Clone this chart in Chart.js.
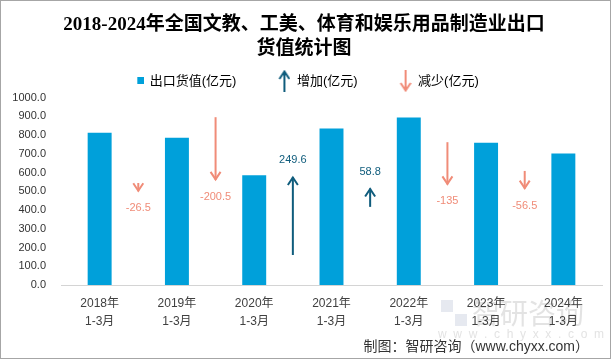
<!DOCTYPE html>
<html lang="zh">
<head>
  <meta charset="UTF-8" />
  <title>出口货值统计图</title>
  <script src="https://cdn.jsdelivr.net/npm/chart.js"></script>
  <style>
    body {
      margin: 0;
      padding: 0;
      background: #fff;
    }
    .box {
      width: 611px;
      height: 359px;
      position: relative;
    }
  </style>
</head>
<body>
  <div class="box">
    <canvas id="grafik" width="611" height="359"></canvas>
  </div>

  <script>
    // data
    const categories = [
      ['2018年', '1-3月'], ['2019年', '1-3月'], ['2020年', '1-3月'], ['2021年', '1-3月'],
      ['2022年', '1-3月'], ['2023年', '1-3月'], ['2024年', '1-3月']
    ];
    const exportValues = [812.0, 785.5, 585.0, 834.6, 893.4, 758.4, 701.9];
    const changeValues = [-26.5, -200.5, 249.6, 58.8, -135, -56.5];
    // tail of each change arrow, on the hidden helper axis (-300..300)
    const arrowStart = [26.5, 237, -204, -50, 157, 65];
    const yTicks = [0, 100, 200, 300, 400, 500, 600, 700, 800, 900, 1000];

    const BAR = '#00A0DA';
    const UP = '#0F5C7C';
    const DOWN = '#F08C78';
    const sans = '"Liberation Sans", "Noto Sans CJK SC", sans-serif';

    function drawArrow(ctx, x, y0, y1, color) {
      const dir = y1 < y0 ? 1 : -1; // 1 = pointing up
      ctx.save();
      ctx.strokeStyle = color;
      ctx.lineWidth = 2;
      ctx.lineCap = 'butt';
      ctx.beginPath();
      ctx.moveTo(x, y0);
      ctx.lineTo(x, y1);
      ctx.stroke();
      ctx.lineJoin = 'miter';
      ctx.beginPath();
      ctx.moveTo(x - 5, y1 + dir * 8);
      ctx.lineTo(x, y1 + dir * 0.5);
      ctx.lineTo(x + 5, y1 + dir * 8);
      ctx.stroke();
      ctx.restore();
    }

    // legend icons: drawn near the right edge of a 40px box so the text sits close
    function arrowIcon(color, up) {
      const c = document.createElement('canvas');
      c.width = 40;
      c.height = 22;
      const ctx = c.getContext('2d');
      if (up) drawArrow(ctx, 34, 22, 1, color);
      else drawArrow(ctx, 34, 0, 21, color);
      return c;
    }

    function squareIcon() {
      const c = document.createElement('canvas');
      c.width = 42;
      c.height = 8;
      const ctx = c.getContext('2d');
      ctx.fillStyle = BAR;
      ctx.fillRect(35, 0, 7, 7);
      return c;
    }

    // frame + watermark + footer
    const decor = {
      id: 'decor',
      beforeDraw(chart) {
        const ctx = chart.ctx;
        ctx.save();
        ctx.fillStyle = '#fff';
        ctx.fillRect(0, 0, chart.width, chart.height);
        ctx.fillStyle = 'rgba(205,212,225,0.5)';
        ctx.fillRect(441, 300, 12, 12);
        ctx.fillRect(455, 314, 12, 12);
        ctx.font = '28px "Noto Sans CJK SC", sans-serif';
        ctx.fillStyle = 'rgba(200,200,200,0.5)';
        ctx.textBaseline = 'middle';
        ctx.fillText('智研咨询', 472, 313);
        ctx.font = '12px "Liberation Sans", sans-serif';
        ctx.fillText('w  w  w  .  c  h  y  x  x  .  c  o  m', 438, 335);
        ctx.restore();
      },
      afterDraw(chart) {
        const ctx = chart.ctx;
        ctx.save();
        ctx.font = '14px ' + sans;
        ctx.fillStyle = '#333';
        ctx.textAlign = 'right';
        ctx.textBaseline = 'middle';
        ctx.fillText('制图：智研咨询（www.chyxx.com）', 589, 347);
        ctx.strokeStyle = '#a6a6a6';
        ctx.lineWidth = 1;
        ctx.strokeRect(0.5, 0.5, chart.width - 1, chart.height - 1);
        ctx.restore();
      }
    };

    // change arrows between the bars
    const changeArrows = {
      id: 'changeArrows',
      afterDatasetsDraw(chart) {
        const ctx = chart.ctx;
        const xs = chart.scales.x;
        const ys = chart.scales.y2;
        changeValues.forEach((d, i) => {
          const x = (xs.getPixelForValue(i) + xs.getPixelForValue(i + 1)) / 2;
          const y0 = ys.getPixelForValue(arrowStart[i]);
          const y1 = ys.getPixelForValue(arrowStart[i] + d);
          const color = d >= 0 ? UP : DOWN;
          drawArrow(ctx, x, y0, y1, color);
          ctx.save();
          ctx.font = '11px ' + sans;
          ctx.fillStyle = color;
          ctx.textAlign = 'center';
          ctx.textBaseline = 'middle';
          ctx.fillText(String(d), x, d >= 0 ? y1 - 17 : y1 + 17);
          ctx.restore();
        });
      }
    };

    const legendIcons = [squareIcon(), arrowIcon(UP, true), arrowIcon(DOWN, false)];
    const legendTexts = ['出口货值(亿元)', '增加(亿元)', '减少(亿元)\u2003\u2003'];

    new Chart(document.getElementById('grafik').getContext('2d'), {
      type: 'bar',
      data: {
        labels: categories,
        datasets: [{
          label: '出口货值(亿元)',
          data: exportValues,
          backgroundColor: BAR,
          categoryPercentage: 1,
          barPercentage: 0.31
        }]
      },
      options: {
        responsive: false,
        animation: false,
        layout: { padding: { left: 6, right: 9, bottom: 24, top: 0 } },
        plugins: {
          title: {
            display: true,
            text: ['2018-2024年全国文教、工美、体育和娱乐用品制造业出口', '货值统计图'],
            color: '#000',
            font: { family: '"Liberation Serif", "Noto Sans CJK SC", serif', size: 19, weight: 'bold', lineHeight: 1.25 },
            padding: { top: 13, bottom: 0 }
          },
          legend: {
            display: true,
            labels: {
              usePointStyle: true,
              pointStyleWidth: 40,
              boxHeight: 13,
              padding: 14,
              color: '#333',
              font: { family: sans, size: 13 },
              generateLabels: () => legendTexts.map((t, i) => ({
                text: t,
                pointStyle: legendIcons[i],
                fillStyle: BAR,
                strokeStyle: 'transparent',
                lineWidth: 0,
                hidden: false,
                datasetIndex: 0
              }))
            }
          },
          tooltip: { enabled: false }
        },
        scales: {
          x: {
            grid: { display: false, drawTicks: false },
            border: { display: true, color: '#d4d4d4' },
            ticks: { color: '#404040', font: { family: sans, size: 12, lineHeight: 1.55 }, padding: 9, maxRotation: 0 },
            afterFit: s => { s.height = 50; }
          },
          y: {
            min: 0,
            max: 1000,
            afterBuildTicks: s => { s.ticks = yTicks.map(v => ({ value: v })); },
            grid: { display: false, drawTicks: false },
            border: { display: false },
            ticks: {
              color: '#333',
              font: { family: sans, size: 11 },
              padding: 15,
              callback: v => v.toFixed(1)
            },
            afterFit: s => { s.width = 55; }
          },
          y2: {
            display: false,
            min: -300,
            max: 300
          }
        }
      },
      plugins: [decor, changeArrows]
    });
  </script>
</body>
</html>
